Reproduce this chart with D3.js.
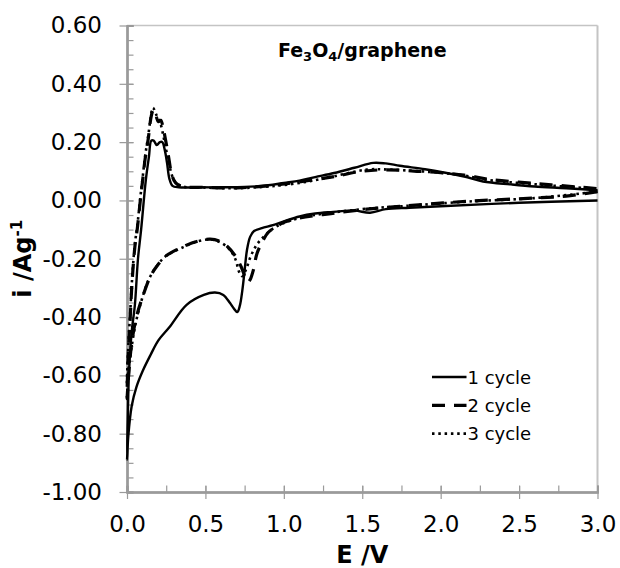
<!DOCTYPE html>
<html>
<head>
<meta charset="utf-8">
<script src="https://cdn.jsdelivr.net/npm/d3@7"></script>
<style>
    html, body { margin: 0; padding: 0; background: #fff; }
    svg { display: block; font-family: "DejaVu Sans", Verdana, sans-serif; }
</style>
</head>
<body>
<svg id="cv_svg" width="620" height="568"></svg>
<script>
/**
 * Data: E (V) and i (A/g) along the scan,
 * cathodic sweep 3.0 -> 0 first, then anodic sweep 0 -> 3.0
 */
var cycle1E = [3.0, 2.5, 2.0, 1.8, 1.65, 1.55, 1.45, 1.3, 1.2, 1.1, 1.0, 0.93, 0.86, 0.81, 0.785, 0.765, 0.75, 0.735, 0.72, 0.703, 0.68, 0.657, 0.614, 0.561, 0.49, 0.38, 0.27, 0.2, 0.15, 0.1, 0.06, 0.03, 0.008, 0.0,
               0.005, 0.012, 0.03, 0.05, 0.07, 0.09, 0.12, 0.14, 0.155, 0.17, 0.19, 0.21, 0.225, 0.24, 0.255, 0.27, 0.29, 0.33, 0.45, 0.6, 0.75, 0.9, 1.0, 1.1, 1.2, 1.32, 1.45, 1.57, 1.65, 1.74, 1.9, 2.02, 2.15, 2.27, 2.45, 2.6, 2.8, 3.0];
var cycle1I = [0.0, -0.008, -0.02, -0.025, -0.03, -0.042, -0.035, -0.04, -0.045, -0.055, -0.072, -0.085, -0.095, -0.105, -0.125, -0.17, -0.24, -0.31, -0.36, -0.383, -0.37, -0.352, -0.324, -0.316, -0.324, -0.358, -0.435, -0.48, -0.53, -0.585, -0.64, -0.705, -0.81, -0.89,
               -0.75, -0.6, -0.45, -0.36, -0.2, -0.1, 0.07, 0.15, 0.205, 0.205, 0.19, 0.2, 0.2, 0.175, 0.13, 0.075, 0.05, 0.045, 0.045, 0.045, 0.046, 0.052, 0.06, 0.068, 0.08, 0.094, 0.112, 0.129, 0.127, 0.119, 0.107, 0.096, 0.082, 0.065, 0.055, 0.048, 0.042, 0.035];

var cycle2E = [3.0, 2.8, 2.59, 2.17, 1.74, 1.53, 1.3, 1.1, 1.0, 0.955, 0.9, 0.87, 0.83, 0.805, 0.785, 0.772, 0.755, 0.73, 0.69, 0.64, 0.59, 0.53, 0.45, 0.36, 0.25, 0.19, 0.15, 0.1, 0.06, 0.03, 0.01, 0.0,
               0.01, 0.02, 0.03, 0.05, 0.065, 0.085, 0.1, 0.115, 0.135, 0.155, 0.168, 0.185, 0.2, 0.215, 0.23, 0.245, 0.265, 0.285, 0.31, 0.35, 0.5, 0.7, 0.9, 1.05, 1.3, 1.5, 1.65, 1.85, 2.0, 2.15, 2.3, 2.6, 2.9, 3.0];
var cycle2I = [0.03, 0.015, 0.008, -0.003, -0.02, -0.03, -0.045, -0.06, -0.075, -0.089, -0.11, -0.135, -0.18, -0.24, -0.272, -0.28, -0.265, -0.23, -0.19, -0.158, -0.14, -0.133, -0.14, -0.158, -0.19, -0.226, -0.26, -0.33, -0.4, -0.49, -0.6, -0.68,
               -0.5, -0.41, -0.3, -0.16, -0.1, 0.0, 0.07, 0.14, 0.21, 0.29, 0.31, 0.29, 0.27, 0.275, 0.25, 0.21, 0.15, 0.09, 0.06, 0.048, 0.045, 0.043, 0.05, 0.06, 0.08, 0.1, 0.105, 0.1, 0.095, 0.087, 0.073, 0.058, 0.045, 0.04];

var cycle3E = [3.0, 2.6, 2.2, 1.75, 1.5, 1.1, 0.95, 0.88, 0.83, 0.79, 0.76, 0.735, 0.715, 0.69, 0.64, 0.55, 0.45, 0.36, 0.25, 0.19, 0.14, 0.1, 0.06, 0.03, 0.01, 0.0,
               0.01, 0.02, 0.03, 0.05, 0.065, 0.085, 0.1, 0.115, 0.135, 0.15, 0.165, 0.19, 0.21, 0.24, 0.27, 0.3, 0.34, 0.5, 0.7, 0.9, 1.1, 1.32, 1.53, 1.66, 1.87, 2.12, 2.29, 2.59, 2.91, 3.0];
var cycle3I = [0.03, 0.008, -0.003, -0.02, -0.03, -0.06, -0.09, -0.12, -0.15, -0.19, -0.235, -0.26, -0.245, -0.2, -0.16, -0.135, -0.14, -0.16, -0.19, -0.225, -0.27, -0.33, -0.41, -0.5, -0.58, -0.63,
               -0.48, -0.39, -0.29, -0.15, -0.09, 0.01, 0.08, 0.15, 0.22, 0.28, 0.318, 0.29, 0.27, 0.2, 0.12, 0.07, 0.05, 0.044, 0.042, 0.048, 0.06, 0.083, 0.106, 0.106, 0.1, 0.088, 0.071, 0.056, 0.043, 0.04];

var legendLabels = ["1 cycle", "2 cycle", "3 cycle"];
var xTickValues = [0, 0.5, 1.0, 1.5, 2.0, 2.5, 3.0];
var yTickValues = [-1.0, -0.8, -0.6, -0.4, -0.2, 0.0, 0.2, 0.4, 0.6];

window.onload = function(){
    drawChart();
};

function toPoints(es, is) {
    return es.map(function(e, k){ return {e: e, i: is[k]}; });
}

// plain hyphen for negatives, like the original
function fmt(spec) {
    var f = d3.format(spec);
    return function(v){ return f(v).replace("\u2212", "-"); };
}

function drawChart() {
    var svg = d3.select("#cv_svg");
    var left = 127, right = 597.5, top = 25.5, bottom = 492;
    var axisColor = "#9a9a9a";

    var x = d3.scaleLinear().domain([0, 3]).range([left, right]);
    var y = d3.scaleLinear().domain([-1, 0.6]).range([bottom, top]);

    // frame (top and right)
    svg.append("line").attr("x1", left).attr("x2", right).attr("y1", top).attr("y2", top)
        .style("stroke", "#c4c4c4").style("stroke-width", 1.5);
    svg.append("line").attr("x1", right).attr("x2", right).attr("y1", top).attr("y2", bottom)
        .style("stroke", "#c4c4c4").style("stroke-width", 2);

    // minor ticks, inside
    var yMinor = d3.range(-1, 0.6001, 0.05);
    var xMinor = d3.range(0, 3.0001, 0.25);
    svg.append("g").attr("transform", "translate(" + left + ",0)")
        .call(d3.axisLeft(y).tickValues(yMinor).tickSize(-6.5).tickFormat(""))
        .call(styleAxis);
    svg.append("g").attr("transform", "translate(0," + bottom + ")")
        .call(d3.axisBottom(x).tickValues(xMinor).tickSize(-6.5).tickFormat(""))
        .call(styleAxis);

    // major ticks, crossing, with labels
    var yAxis = svg.append("g").attr("transform", "translate(" + left + ",0)")
        .call(d3.axisLeft(y).tickValues(yTickValues).tickSize(7.5).tickSizeOuter(0).tickPadding(17.5)
            .tickFormat(fmt(".2f")))
        .call(styleAxis);
    svg.append("g").attr("transform", "translate(" + left + ",0)")
        .call(d3.axisLeft(y).tickValues(yTickValues).tickSize(-6.5).tickFormat(""))
        .call(styleAxis);

    var xAxis = svg.append("g").attr("transform", "translate(0," + bottom + ")")
        .call(d3.axisBottom(x).tickValues(xTickValues).tickSize(7).tickSizeOuter(0).tickPadding(17)
            .tickFormat(fmt(".1f")))
        .call(styleAxis);
    svg.append("g").attr("transform", "translate(0," + bottom + ")")
        .call(d3.axisBottom(x).tickValues(xTickValues).tickSize(-6).tickFormat(""))
        .call(styleAxis);

    yAxis.selectAll("text").style("font-size", "23px").style("fill", "#000");
    xAxis.selectAll("text").style("font-size", "23px").style("fill", "#000");

    function styleAxis(g) {
        g.select(".domain").style("stroke", axisColor).style("stroke-width", 2);
        g.selectAll(".tick line").style("stroke", axisColor).style("stroke-width", 1.2);
        g.attr("font-family", null).attr("font-size", null);
    }

    // curves
    var line = d3.line()
        .curve(d3.curveCatmullRom.alpha(0.5))
        .x(function(d){ return x(d.e); })
        .y(function(d){ return y(d.i); });

    var styles = [
        {w: 2.4, dash: null},
        {w: 3.2, dash: "13,9"},
        {w: 2.6, dash: "2.5,3.8"}
    ];
    var series = [
        toPoints(cycle1E, cycle1I),
        toPoints(cycle2E, cycle2I),
        toPoints(cycle3E, cycle3I)
    ];

    var plot = svg.append("g");
    series.forEach(function(pts, k){
        plot.append("path")
            .datum(pts)
            .attr("d", line)
            .style("fill", "none")
            .style("stroke", "#000")
            .style("stroke-width", styles[k].w)
            .style("stroke-dasharray", styles[k].dash)
            .style("stroke-linejoin", "round");
    });

    // title
    var title = svg.append("text")
        .attr("x", 278).attr("y", 56.5)
        .style("font-size", "19px").style("font-weight", "bold");
    title.append("tspan").text("Fe");
    title.append("tspan").text("3").attr("dy", 4).style("font-size", "13px");
    title.append("tspan").text("O").attr("dy", -4);
    title.append("tspan").text("4").attr("dy", 4).style("font-size", "13px");
    title.append("tspan").text("/graphene").attr("dy", -4);

    // axis titles
    svg.append("text")
        .attr("x", (left + right) / 2).attr("y", 563)
        .attr("text-anchor", "middle")
        .style("font-size", "24px").style("font-weight", "bold")
        .text("E /V");

    var yTitle = svg.append("text")
        .attr("transform", "translate(31," + ((top + bottom) / 2) + ") rotate(-90)")
        .attr("text-anchor", "middle")
        .style("font-size", "24px").style("font-weight", "bold");
    yTitle.append("tspan").text("i /Ag");
    yTitle.append("tspan").text("-1").attr("dy", -9).style("font-size", "15px");

    // legend
    var legend = svg.append("g");
    legendLabels.forEach(function(lab, k){
        var ly = 377 + k * 28.3;
        legend.append("line")
            .attr("x1", 432).attr("x2", 466.5).attr("y1", ly).attr("y2", ly)
            .style("stroke", "#000")
            .style("stroke-width", styles[k].w)
            .style("stroke-dasharray", styles[k].dash);
        legend.append("text")
            .attr("x", 467.5).attr("y", ly + 6.5)
            .style("font-size", "18px")
            .text(lab);
    });
}
</script>
</body>
</html>
